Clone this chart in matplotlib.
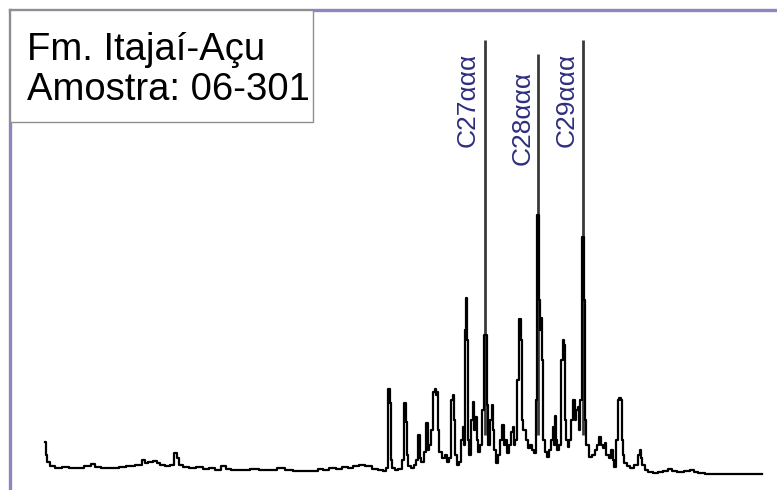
import matplotlib
matplotlib.use("Agg")
import matplotlib.pyplot as plt
from matplotlib.patches import Rectangle

plt.rcParams['font.family'] = ['Liberation Sans', 'DejaVu Sans']

# chromatogram trace (retention position, signal)
rt = [45, 46, 48, 52, 58, 65, 72, 80, 88, 93, 97, 105, 115, 122, 130, 140, 144, 146,
      150, 155, 158, 162, 168, 172, 176, 178, 180, 185, 192, 200, 205, 212, 218, 224,
      227, 235, 245, 255, 262, 270, 283, 286, 300, 315, 320, 325, 333, 338, 345, 350,
      356, 362, 368, 375, 380, 385,
      387, 389, 390, 391, 393, 396, 400, 403, 405, 406, 407, 409, 412, 415, 417, 419,
      420, 422, 425, 427, 428, 430, 432, 434, 435, 436, 437, 438, 440, 443, 446, 448,
      450, 452, 453, 454, 456, 458, 460, 462, 463, 464, 465, 466, 467, 468, 470, 472,
      473, 474, 476, 477, 479, 481, 483, 485, 486, 487, 489, 491, 492, 493, 495, 497,
      499, 501, 503, 504, 506, 508, 510, 512, 513, 514, 516, 518, 520, 521, 522, 524,
      527, 529, 531, 533, 535, 536, 537, 538, 539, 540, 541, 542, 544, 546, 548, 550,
      552, 553, 554, 555, 556, 558, 560, 562, 563, 564, 565, 567, 568, 570, 572, 574,
      575, 577, 578, 579, 581, 582, 583, 584, 585, 587, 590, 593, 596, 598, 600, 602,
      604, 605, 607, 610, 612, 613, 615, 617, 618, 620, 621, 622, 623, 625, 628, 632,
      636, 639, 640, 641, 643, 646, 650, 655, 660, 665, 670, 673, 680, 688, 692, 696,
      700, 710, 730, 762]
signal = [33, 20, 13, 9, 7, 8, 7, 7, 9, 11, 8, 7, 7, 8, 9, 10, 15, 12,
          13, 14, 12, 10, 9, 10, 22, 17, 10, 8, 7, 8, 6, 7, 5, 9,
          6, 5, 5, 6, 5, 5, 7, 5, 4, 4, 6, 5, 7, 6, 8, 7,
          9, 10, 9, 6, 5, 4,
          7, 86, 72, 15, 7, 5, 6, 15, 72, 53, 20, 9, 7, 10, 15, 40,
          17, 13, 23, 52, 25, 30, 45, 83, 86, 80, 83, 45, 23, 17, 20, 13,
          17, 75, 80, 55, 20, 10, 13, 35, 48, 30, 145, 177, 135, 35, 20, 55,
          73, 45, 58, 35, 23, 30, 65, 140, 140, 70, 30, 55, 70, 45, 25, 12,
          20, 35, 50, 30, 35, 22, 30, 43, 48, 30, 35, 95, 156, 135, 55, 45,
          35, 27, 30, 25, 22, 75, 260, 260, 175, 145, 157, 115, 35, 23, 18, 25,
          35, 48, 30, 59, 35, 25, 30, 115, 135, 130, 55, 35, 28, 35, 55, 75,
          55, 65, 68, 45, 75, 238, 238, 175, 55, 30, 18, 20, 25, 30, 38, 30,
          27, 32, 20, 17, 25, 15, 8, 35, 75, 77, 75, 35, 20, 12, 9, 7,
          10, 20, 25, 17, 10, 5, 3, 2, 3, 4, 6, 4, 3, 4, 5, 3,
          2, 1, 1, 1]

# sterane markers
marker_names = ['C27ααα', 'C28ααα', 'C29ααα']
marker_rt = [485, 538, 583]
marker_top = [435, 421, 435]
label_rt = [468, 523, 567]
label_mid = [375, 357, 375]

frame_color = '#8c88bd'

fig = plt.figure(figsize=(7.77, 4.9), dpi=100)
ax = fig.add_axes([10 / 777, 0, 767 / 777, 480 / 490])
ax.set_xlim(10, 777)
ax.set_ylim(-15, 465)
for side in ['right', 'bottom']:
    ax.spines[side].set_visible(False)
for side in ['left', 'top']:
    ax.spines[side].set_color(frame_color)
    ax.spines[side].set_linewidth(2.4)
ax.set_xticks([])
ax.set_yticks([])

ax.vlines(marker_rt, 40, marker_top, color='#3a3a3a', linewidth=2.0, zorder=2)
ax.plot(rt, signal, color='black', linewidth=1.6, drawstyle='steps-mid', zorder=3)

for name, x, y in zip(marker_names, label_rt, label_mid):
    ax.text(x, y, name, rotation=90, ha='center', va='center',
            fontsize=19, color='#2e2e80')

ax.add_patch(Rectangle((10, 353), 303, 112, facecolor='white',
                       edgecolor='#8f8f8f', linewidth=1.0, zorder=4))
ax.text(27, 415, 'Fm. Itajaí-Açu', fontsize=27.5, va='baseline', zorder=5)
ax.text(27, 375, 'Amostra: 06-301', fontsize=27.5, va='baseline', zorder=5)

fig.savefig('out.png', dpi=100)
